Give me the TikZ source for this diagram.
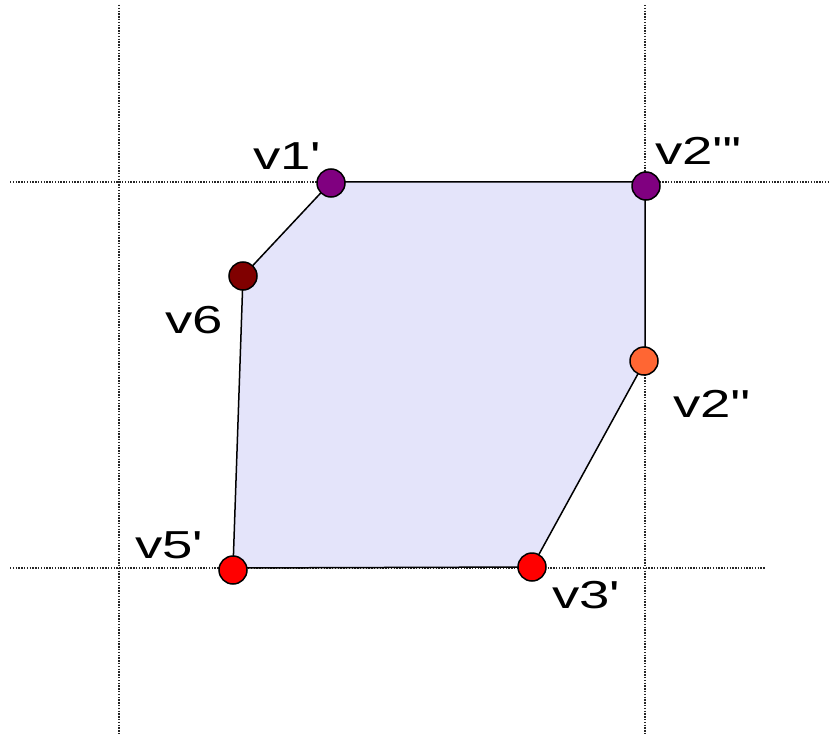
\documentclass[tikz,border=0pt]{standalone}
\usepackage{fontspec}
\setmainfont[FakeStretch=1.4]{Liberation Sans}
\newcommand{\pq}{\textquotesingle}
\definecolor{polyfill}{RGB}{228,228,250}
\definecolor{vpurple}{RGB}{128,0,128}
\definecolor{vdarkred}{RGB}{128,0,0}
\definecolor{vorange}{RGB}{255,102,51}
\definecolor{vred}{RGB}{255,0,0}
\tikzset{
  guide/.style={line width=1.2pt, dash pattern=on 1.4pt off 1.4pt, black!85},
  edge/.style={line width=1.5pt, black},
  vdot/.style={circle, draw=black, line width=1.5pt, minimum size=28pt, inner sep=0pt},
  vlabel/.style={anchor=base west, inner sep=0pt, font=\fontsize{39}{44}\selectfont}
}
\begin{document}
\begin{tikzpicture}[x=1pt,y=-1pt]
\useasboundingbox (0,0) rectangle (832,738);
% guide lines
\coordinate (gv1a) at (119,5);   \coordinate (gv1b) at (119,735);
\coordinate (gv2a) at (645,5);   \coordinate (gv2b) at (645,735);
\coordinate (gh1a) at (10,182);  \coordinate (gh1b) at (830,182);
\coordinate (gh2a) at (10,568);  \coordinate (gh2b) at (765,568);
\draw[guide] (gv1a) -- (gv1b);
\draw[guide] (gv2a) -- (gv2b);
\draw[guide] (gh1a) -- (gh1b);
\draw[guide] (gh2a) -- (gh2b);
% polygon corners
\coordinate (p1) at (331,182);
\coordinate (p2) at (645,182);
\coordinate (p3) at (645,361);
\coordinate (p4) at (532,567);
\coordinate (p5) at (233,568);
\coordinate (p6) at (243,276);
\filldraw[edge, fill=polyfill] (p1) -- (p2) -- (p3) -- (p4) -- (p5) -- (p6) -- cycle;
% vertices
\node[vdot, fill=vpurple] (v1) at (331,183) {};
\node[vdot, fill=vpurple] (v2t) at (646,186) {};
\node[vdot, fill=vorange] (v2d) at (644,361) {};
\node[vdot, fill=vred] (v3) at (532,567) {};
\node[vdot, fill=vred] (v5) at (233,570) {};
\node[vdot, fill=vdarkred] (v6) at (243,276) {};
% labels
\node[vlabel] (l1) at (253,170) {v1\pq};
\node[vlabel] (l2t) at (655,165) {v2\pq\kern2pt\pq\kern2pt\pq};
\node[vlabel] (l6) at (165,333) {v6};
\node[vlabel] (l2d) at (673,417) {v2\pq\kern2pt\pq};
\node[vlabel] (l5) at (135,558) {v5\pq};
\node[vlabel] (l3) at (552,608) {v3\pq};
\end{tikzpicture}
\end{document}
